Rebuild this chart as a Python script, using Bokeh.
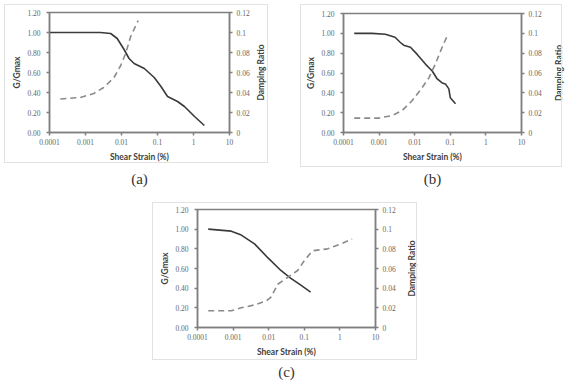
from bokeh.plotting import figure
from bokeh.models import (Range1d, LinearAxis, FixedTicker, CustomJSTickFormatter,
                          Title, Spacer)
from bokeh.layouts import column, row
from bokeh.embed import file_html
from bokeh.resources import INLINE

# ---------------- data ----------------
x_ticks = [0.0001, 0.001, 0.01, 0.1, 1, 10]
x_tick_labels = ["0.0001", "0.001", "0.01", "0.1", "1", "10"]
g_ticks = [0.0, 0.2, 0.4, 0.6, 0.8, 1.0, 1.2]
g_tick_labels = ["0.00", "0.20", "0.40", "0.60", "0.80", "1.00", "1.20"]
d_ticks = [0.0, 0.02, 0.04, 0.06, 0.08, 0.10, 0.12]
d_tick_labels = ["0", "0.02", "0.04", "0.06", "0.08", "0.1", "0.12"]

# (a)
strain_a_g = [0.0001, 0.0005, 0.0026, 0.005, 0.0076, 0.0118, 0.0162, 0.0224, 0.043,
              0.081, 0.125, 0.19, 0.36, 0.56, 1.07, 2.0]
g_a = [1.00, 1.00, 1.00, 0.99, 0.94, 0.83, 0.74, 0.69, 0.64, 0.55, 0.46, 0.36, 0.31,
       0.26, 0.16, 0.07]
strain_a_d = [0.0002, 0.00072, 0.0017, 0.0032, 0.0062, 0.0095, 0.013, 0.018, 0.029]
d_a = [0.0335, 0.035, 0.039, 0.045, 0.055, 0.067, 0.079, 0.096, 0.112]

# (b)
strain_b_g = [0.0002, 0.00063, 0.0015, 0.0028, 0.0039, 0.0049, 0.0076, 0.0116, 0.02,
              0.031, 0.043, 0.059, 0.073, 0.091, 0.10, 0.14]
g_b = [1.00, 1.00, 0.99, 0.96, 0.91, 0.88, 0.86, 0.79, 0.69, 0.62, 0.54, 0.50, 0.49,
       0.44, 0.35, 0.29]
strain_b_d = [0.0002, 0.00096, 0.0023, 0.0044, 0.0084, 0.016, 0.025, 0.038, 0.059, 0.081]
d_b = [0.0145, 0.0145, 0.017, 0.022, 0.032, 0.045, 0.055, 0.069, 0.086, 0.097]

# (c)
strain_c_g = [0.0002, 0.00089, 0.0017, 0.004, 0.0094, 0.022, 0.042, 0.08, 0.15]
g_c = [1.00, 0.98, 0.94, 0.85, 0.71, 0.58, 0.50, 0.43, 0.36]
strain_c_d = [0.0002, 0.00089, 0.0017, 0.004, 0.0085, 0.0116, 0.018, 0.034, 0.065, 0.10,
              0.17, 0.45, 1.05, 2.2]
d_c = [0.017, 0.017, 0.020, 0.023, 0.027, 0.031, 0.044, 0.051, 0.058, 0.068, 0.078,
       0.080, 0.085, 0.090]

panel_labels = ["(a)", "(b)", "(c)"]
x_title = "Shear Strain (%)"
g_title = "G/Gmax"
d_title = "Damping Ratio"

AXIS_COLOR = "#7f7f7f"
TICK_FONT = "Liberation Serif"
TITLE_FONT = "Lato"


def fmt(tvals, tlabels):
    return CustomJSTickFormatter(args=dict(tvals=tvals, tlabels=tlabels), code="""
        let best = 0, bd = Infinity;
        for (let i = 0; i < tvals.length; i++) {
            const d = Math.abs(Math.log(Math.abs(tvals[i]) + 1e-12) - Math.log(Math.abs(tick) + 1e-12));
            if (d < bd) { bd = d; best = i; }
        }
        return tlabels[best];
    """)


def lin_fmt(tvals, tlabels):
    return CustomJSTickFormatter(args=dict(tvals=tvals, tlabels=tlabels), code="""
        let best = 0, bd = Infinity;
        for (let i = 0; i < tvals.length; i++) {
            const d = Math.abs(tvals[i] - tick);
            if (d < bd) { bd = d; best = i; }
        }
        return tlabels[best];
    """)


def style_axis(ax):
    ax.axis_line_color = AXIS_COLOR
    ax.axis_line_width = 1.5
    ax.major_tick_line_color = AXIS_COLOR
    ax.major_tick_line_width = 1.5
    ax.major_tick_out = 3
    ax.major_tick_in = 0
    ax.minor_tick_line_color = None
    ax.major_label_text_font = TICK_FONT
    ax.major_label_text_font_size = "7.5px"
    ax.major_label_text_color = "#666666"
    ax.axis_label_text_font = TITLE_FONT
    ax.axis_label_text_font_style = "bold"
    ax.axis_label_text_font_size = "8.5px"
    ax.axis_label_text_color = "#404040"


def make_main(w, h, bl, bt, bb, sx_g, g, sx_d, d, label, title_standoff):
    p = figure(width=w, height=h, x_axis_type="log",
               x_range=Range1d(0.0001, 10), y_range=Range1d(0, 1.2),
               output_backend="svg", toolbar_location=None,
               min_border_left=bl, min_border_right=23,
               min_border_top=bt, min_border_bottom=bb)
    p.extra_y_ranges = {"damp": Range1d(0, 0.12)}
    p.grid.visible = False
    p.outline_line_color = AXIS_COLOR
    p.outline_line_width = 1.5
    p.background_fill_color = "white"
    p.border_fill_color = "white"

    p.xaxis.ticker = FixedTicker(ticks=x_ticks)
    p.xaxis.formatter = fmt(x_ticks, x_tick_labels)
    p.xaxis.axis_label = x_title
    p.xaxis.major_label_standoff = 3
    p.xaxis.axis_label_standoff = 4
    p.yaxis.ticker = FixedTicker(ticks=g_ticks)
    p.yaxis.formatter = lin_fmt(g_ticks, g_tick_labels)
    p.yaxis.axis_label = g_title
    p.yaxis.major_label_standoff = 6
    p.yaxis.axis_label_standoff = 2
    style_axis(p.xaxis[0])
    style_axis(p.yaxis[0])

    ra = LinearAxis(y_range_name="damp", ticker=FixedTicker(ticks=d_ticks),
                    formatter=lin_fmt(d_ticks, d_tick_labels))
    style_axis(ra)
    ra.major_label_standoff = 4
    p.add_layout(ra, "right")

    p.line(sx_g, g, line_color="#3a3a3a", line_width=1.6)
    p.line(sx_d, d, y_range_name="damp", line_color="#8a8a8a", line_width=1.6,
           line_dash="6 4")

    p.add_layout(Title(text=label, align="center", text_font="Liberation Serif",
                       text_font_size="15px", text_font_style="normal",
                       text_color="#333333", standoff=title_standoff), "below")
    return p


def make_side_title(w, h, bl, bt, bb):
    # narrow companion figure whose left-axis title carries the secondary-axis name,
    # so that it reads bottom-to-top as in the reference
    q = figure(width=w, height=h, x_range=Range1d(0, 1), y_range=Range1d(0, 0.12),
               x_axis_location=None, output_backend="svg", toolbar_location=None,
               min_border_left=bl, min_border_right=0,
               min_border_top=bt, min_border_bottom=bb)
    q.grid.visible = False
    q.outline_line_color = None
    q.background_fill_color = None
    q.border_fill_color = None
    ax = q.yaxis[0]
    ax.ticker = FixedTicker(ticks=[])
    ax.axis_line_color = None
    ax.major_tick_line_color = None
    ax.minor_tick_line_color = None
    ax.major_label_text_font_size = "0px"
    ax.axis_label = d_title
    ax.axis_label_standoff = 1
    ax.axis_label_text_font = TITLE_FONT
    ax.axis_label_text_font_style = "bold"
    ax.axis_label_text_font_size = "8.5px"
    ax.axis_label_text_color = "#404040"
    return q


def panel(main, side, box):
    bx, by, bw, bh = box
    css = (":host { position: relative; } "
           ":host::after { content: ''; position: absolute; "
           f"left: {bx}px; top: {by}px; width: {bw}px; height: {bh}px; "
           "border: 1px solid #e2e2e2; box-sizing: border-box; pointer-events: none; "
           "z-index: 5; }")
    return row(main, side, stylesheets=[css])


pa = make_main(252, 190, 49, 12, 58, strain_a_g, g_a, strain_a_d, d_a, panel_labels[0], 8)
sa = make_side_title(33, 190, 12, 12, 58)
pb = make_main(259, 190, 58, 13, 58, strain_b_g, g_b, strain_b_d, d_b, panel_labels[1], 8)
sb = make_side_title(27, 190, 20, 13, 58)
pc = make_main(258, 191, 57, 19, 53, strain_c_g, g_c, strain_c_d, d_c, panel_labels[2], 4)
sc = make_side_title(32, 191, 19, 19, 53)

layout = column(
    row(panel(pa, sa, (4, 4, 264, 159)), panel(pb, sb, (15, 4, 262, 163))),
    row(Spacer(width=140, height=191), panel(pc, sc, (12, 12, 265, 158))),
)

open("out.html", "w").write(file_html(layout, INLINE))
